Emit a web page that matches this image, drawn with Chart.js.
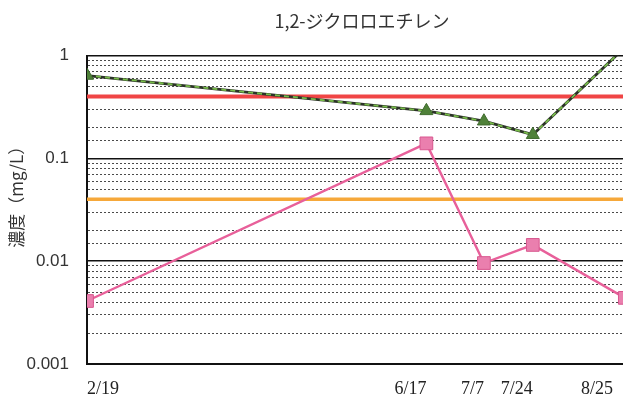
<!DOCTYPE html>
<html>
<head>
<meta charset="utf-8">
<script src="https://cdn.jsdelivr.net/npm/chart.js"></script>
<style>
  html, body { margin: 0; padding: 0; background: #fff; }
  body { width: 623px; height: 405px; overflow: hidden; }
  #wrap { width: 724px; height: 405px; }
</style>
</head>
<body>
<div id="wrap"><canvas id="grafico" width="724" height="405"></canvas></div>
<script>
// fechas de muestreo y concentraciones (mg/L)
const fechas = ["2/19", "6/17", "7/7", "7/24", "8/25"];
const valoresVerde = [0.64, 0.29, 0.23, 0.17, 1.2];
const valoresRosa = [0.0041, 0.14, 0.0096, 0.0144, 0.0044];
const limiteRojo = 0.4;
const limiteNaranja = 0.04;
const ticksY = [1, 0.1, 0.01, 0.001];
const etiquetasY = ["1", "0.1", "0.01", "0.001"];
const fechaFinEje = "9/25";

// día del año a partir de "m/d"
function diaDelAnio(txt) {
  const [m, d] = txt.split("/").map(Number);
  const t = Date.UTC(2015, m - 1, d) - Date.UTC(2015, 0, 0);
  return Math.round(t / 86400000);
}

const xMin = diaDelAnio(fechas[0]);
const xMax = diaDelAnio(fechaFinEje);
const puntos = vals => fechas.map((f, i) => ({ x: diaDelAnio(f), y: vals[i] }));
const linea = v => [{ x: xMin, y: v }, { x: xMax, y: v }];

const esMayor = v => ticksY.some(t => Math.abs(v - t) / t < 1e-6);

// etiquetas de fecha bajo el eje (sin salirse de la parte visible)
const etiquetasFecha = {
  id: "etiquetasFecha",
  afterDraw(chart) {
    const { ctx, chartArea, scales } = chart;
    const limite = document.body.clientWidth - 10;
    ctx.save();
    ctx.font = '18px "Liberation Serif"';
    ctx.fillStyle = "#222";
    ctx.textBaseline = "middle";
    fechas.forEach((f, i) => {
      ctx.textAlign = i === 0 ? "left" : "right";
      const px = Math.min(scales.x.getPixelForValue(diaDelAnio(f)), limite);
      ctx.fillText(f, px, chartArea.bottom + 25);
    });
    ctx.restore();
  }
};

const ctx = document.getElementById("grafico").getContext("2d");

new Chart(ctx, {
  type: "line",
  data: {
    datasets: [
      {
        label: "B",
        data: puntos(valoresRosa),
        borderColor: "#e8609a",
        borderWidth: 2.4,
        pointStyle: "rect",
        pointRadius: 9,
        pointBackgroundColor: "#ea7fae",
        pointBorderColor: "#d9578f",
        pointBorderWidth: 1,
        tension: 0
      },
      {
        label: "A",
        data: puntos(valoresVerde),
        borderColor: "#78bd4a",
        borderWidth: 1.8,
        borderDash: [5, 4],
        pointStyle: "triangle",
        pointRadius: 7.5,
        pointBackgroundColor: "#4f8139",
        pointBorderColor: "#3f6b2d",
        pointBorderWidth: 1,
        tension: 0
      },
      {
        label: "A base",
        data: puntos(valoresVerde),
        borderColor: "#2c3328",
        borderWidth: 2.8,
        pointRadius: 0,
        tension: 0
      },
      {
        label: "limite 0.4",
        data: linea(limiteRojo),
        borderColor: "#f04545",
        borderWidth: 4,
        pointRadius: 0
      },
      {
        label: "limite 0.04",
        data: linea(limiteNaranja),
        borderColor: "#f6a83a",
        borderWidth: 3.5,
        pointRadius: 0
      }
    ]
  },
  options: {
    responsive: false,
    animation: false,
    devicePixelRatio: 1,
    layout: { padding: { left: 0, right: 0, top: 0, bottom: 33 } },
    plugins: {
      legend: { display: false },
      tooltip: { enabled: false },
      title: {
        display: true,
        text: "1,2-ジクロロエチレン",
        color: "#333",
        font: { family: '"Noto Sans CJK JP"', size: 18, weight: "normal" },
        padding: { top: 10, bottom: 24 }
      }
    },
    scales: {
      x: {
        type: "linear",
        min: xMin,
        max: xMax,
        grid: { display: false },
        ticks: { display: false },
        border: { display: true, color: "#111", width: 2 }
      },
      y: {
        type: "logarithmic",
        min: 0.001,
        max: 1,
        afterFit(scale) { scale.width = 87; },
        title: {
          display: true,
          text: "　　濃度（mg/L）",
          color: "#333",
          font: { family: '"Noto Sans CJK JP"', size: 17 },
          padding: { top: 6, bottom: 0 }
        },
        ticks: {
          autoSkip: false,
          padding: 18,
          color: "#333",
          font: { family: '"Liberation Sans"', size: 17 },
          callback: v => {
            const i = ticksY.findIndex(t => Math.abs(v - t) / t < 1e-6);
            return i >= 0 ? etiquetasY[i] : "";
          }
        },
        grid: {
          drawTicks: false,
          color: c => esMayor(c.tick.value) ? "#111" : "#4a4a4a",
          lineWidth: c => esMayor(c.tick.value) ? 1.6 : 1
        },
        border: {
          display: true,
          color: "#111",
          width: 2,
          dash: c => (c.tick && !esMayor(c.tick.value)) ? [2, 2] : []
        }
      }
    }
  },
  plugins: [etiquetasFecha]
});
</script>
</body>
</html>
